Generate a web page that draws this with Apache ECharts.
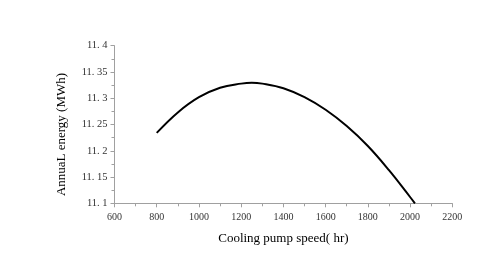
<!DOCTYPE html>
<html><head><meta charset="utf-8">
<script src="https://cdn.jsdelivr.net/npm/echarts@6/dist/echarts.min.js"></script>
<style>html,body{margin:0;padding:0;background:#fff}#c{width:480px;height:263px}</style>
</head><body><div id="c"></div>
<script>
var speeds = [800, 900, 1000, 1100, 1200, 1250, 1300, 1400, 1500, 1600, 1700, 1800, 1900, 2000, 2023];
var energy = [11.234, 11.273, 11.302, 11.320, 11.3278, 11.3295, 11.3278, 11.319, 11.302, 11.278, 11.247, 11.209, 11.163, 11.112, 11.1];
var xName = 'Cooling pump speed( hr)';
var yName = 'AnnuaL energy (MWh)';

var data = speeds.map(function (s, i) { return [s, energy[i]]; });
var font = '"Liberation Serif", "DejaVu Serif", serif';
var chart = echarts.init(document.getElementById('c'), null, {renderer: 'canvas'});
chart.setOption({
  animation: false,
  grid: {left: 114.5, right: 27.7, top: 45.7, bottom: 59.7, containLabel: false},
  xAxis: {
    type: 'value', min: 600, max: 2200, interval: 200,
    name: xName, nameLocation: 'middle', nameGap: 29,
    nameTextStyle: {fontFamily: font, fontSize: 13, color: '#000'},
    axisLine: {lineStyle: {color: '#a0a0a0', width: 1}},
    axisTick: {show: true, length: 4, lineStyle: {color: '#a0a0a0'}},
    minorTick: {show: true, splitNumber: 2, length: 3, lineStyle: {color: '#a0a0a0'}},
    axisLabel: {fontFamily: font, fontSize: 10, color: '#333', margin: 9,
      formatter: function (v) { return String(v); }},
    splitLine: {show: false}
  },
  yAxis: {
    type: 'value', min: 11.1, max: 11.4, interval: 0.05,
    name: yName, nameLocation: 'middle', nameGap: 46, nameRotate: 90,
    nameTextStyle: {fontFamily: font, fontSize: 13, color: '#000', padding: [0, 20, 0, 0]},
    axisLine: {show: true, lineStyle: {color: '#a0a0a0', width: 1}},
    axisTick: {show: true, length: 4, lineStyle: {color: '#a0a0a0'}},
    minorTick: {show: true, splitNumber: 2, length: 3, lineStyle: {color: '#a0a0a0'}},
    axisLabel: {fontFamily: font, fontSize: 10.5, color: '#333', margin: 7,
      formatter: function (v) { return (+v.toFixed(2)).toString().replace('.', '. '); }},
    splitLine: {show: false}
  },
  series: [{
    type: 'line', data: data, smooth: 0.4, showSymbol: false,
    lineStyle: {color: '#000', width: 2}
  }]
});
</script></body></html>
